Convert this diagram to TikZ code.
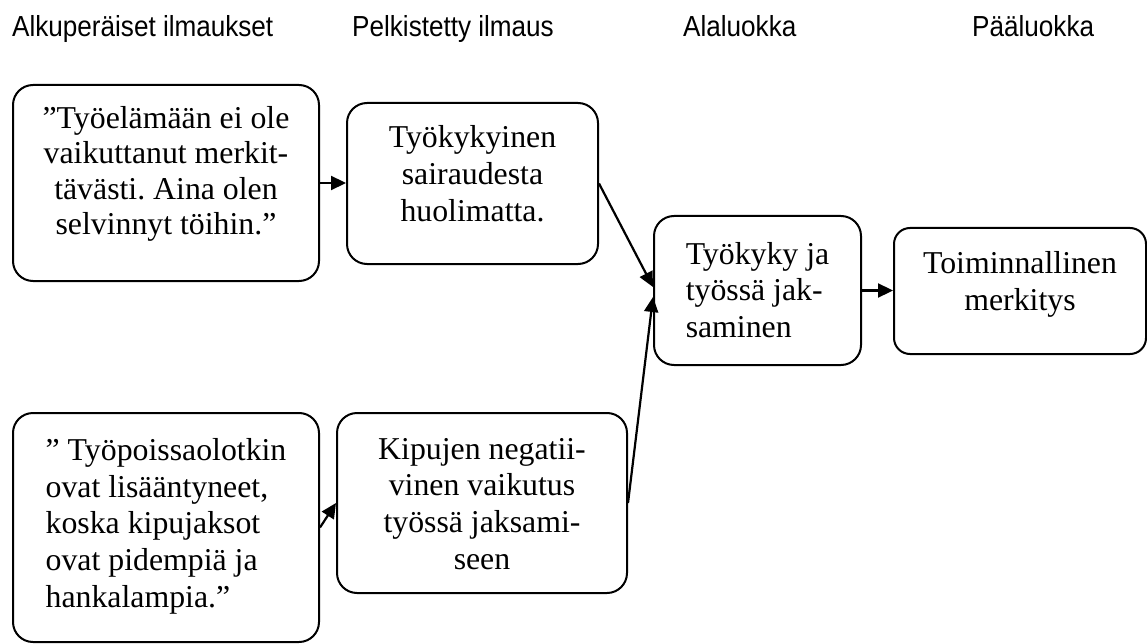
\documentclass[tikz,border=0pt]{standalone}
\usepackage{fontspec}
\setmainfont{Liberation Serif}
\newfontfamily\headfont[FakeStretch=0.9]{Liberation Sans}
\usetikzlibrary{arrows.meta}
\frenchspacing

% stacked lines: #1 column alignment, #2 line pitch factor, #3 vertical lift, #4 lines
\newcommand\stackedlines[4]{\raisebox{#3}[\height][\depth]{\def\arraystretch{#2}\begin{tabular}{@{}#1@{}}#4\end{tabular}}}

\tikzset{
  box/.style={draw, line width=2pt, rounded corners=20pt, inner sep=0pt,
    font=\fontsize{31.8}{36.7}\selectfont},
  head/.style={anchor=base west, inner sep=0pt, font=\headfont\fontsize{29}{34}\selectfont},
  link/.style={line width=2.2pt, -{Triangle[length=15pt,width=14pt]}},
}

\begin{document}
\begin{tikzpicture}[x=1pt,y=-1pt]
\useasboundingbox (0,0) rectangle (1147,644);

% column headings
\node[head] (h1) at (12,37) {Alkuperäiset ilmaukset};
\node[head] (h2) at (352,37) {Pelkistetty ilmaus};
\node[head] (h3) at (683,37) {Alaluokka};
\node[head] (h4) at (972,37) {Pääluokka};

% original expressions
\node[box, minimum width=306pt, minimum height=196pt] (a1) at (166,183)
  {\stackedlines{c}{0.954}{8.5pt}{”Työelämään ei ole\\vaikuttanut merkit-\\tävästi. Aina olen\\selvinnyt töihin.”}};
\node[box, minimum width=306pt, minimum height=229pt] (a2) at (166,527.5)
  {\stackedlines{l}{1}{1pt}{” Työpoissaolotkin\\ovat lisääntyneet,\\koska kipujaksot\\ovat pidempiä ja\\hankalampia.”}};

% reduced expressions
\node[box, minimum width=251pt, minimum height=161pt] (b1) at (472.5,183.5)
  {\stackedlines{c}{1}{6.5pt}{Työkykyinen\\sairaudesta\\huolimatta.}};
\node[box, minimum width=290pt, minimum height=180pt] (b2) at (482,503)
  {\stackedlines{c}{1}{-4pt}{Kipujen negatii-\\vinen vaikutus\\työssä jaksami-\\seen}};

% subcategory
\node[box, minimum width=207pt, minimum height=149pt] (c) at (757.5,290.5)
  {\stackedlines{l}{1}{-3pt}{Työkyky ja\\työssä jak-\\saminen}};

% main category
\node[box, rounded corners=16pt, minimum width=252pt, minimum height=126pt] (d) at (1020,291)
  {\stackedlines{c}{1}{6.5pt}{Toiminnallinen\\merkitys}};

% connectors
\draw[link] (a1.east) -- (a1.east -| b1.west);
\draw[link] (a2.east) -- (b2.west);
\draw[link] (b1.east) -- ([yshift=3.5pt]c.west);
\draw[link] (b2.east) -- ([yshift=-6.5pt]c.west);
\draw[link] (c.east) -- (c.east -| d.west);
\end{tikzpicture}
\end{document}
